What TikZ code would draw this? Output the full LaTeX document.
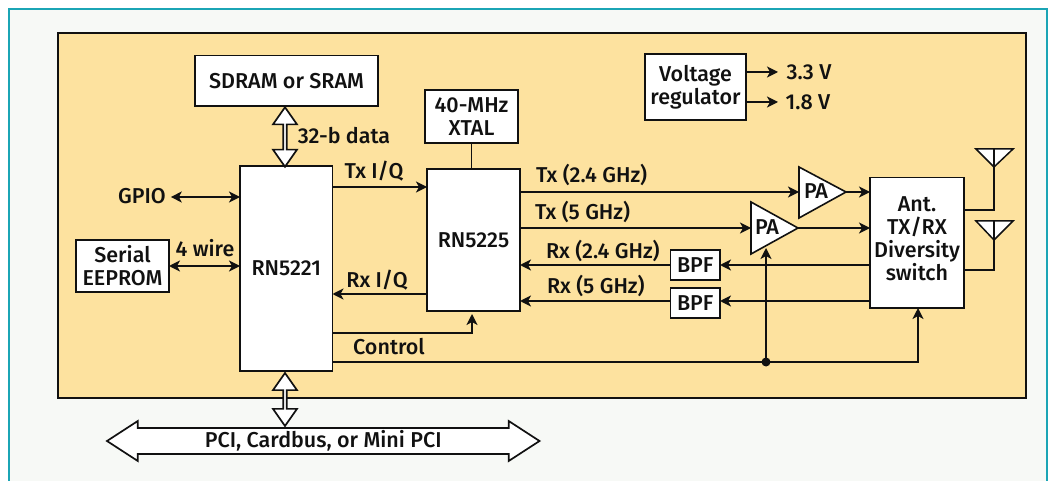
\documentclass[tikz,border=0pt]{standalone}
\usepackage{fontspec}
\setmainfont{Fira Sans}[UprightFont=* Medium]
\usetikzlibrary{arrows.meta,shapes.arrows,calc}
\definecolor{panel}{HTML}{FDE29F}
\definecolor{page}{HTML}{F7F9F6}
\definecolor{teal}{HTML}{1BA5B5}
\definecolor{ink}{HTML}{111111}
\tikzset{
  x=1pt,y=-1pt,
  every node/.style={font=\fontsize{21.5}{23}\selectfont,text=ink,inner sep=0pt,outer sep=0pt,align=center},
  blk/.style={draw=ink,line width=1.8pt,fill=white,anchor=north west},
  wire/.style={draw=ink,line width=1.6pt},
  arr/.style={wire,-{Stealth[length=11pt,width=11pt,inset=3pt]}},
  darr/.style={wire,{Stealth[length=11pt,width=11pt,inset=3pt]}-{Stealth[length=11pt,width=11pt,inset=3pt]}},
  bus/.style={double arrow,draw=ink,line width=1.7pt,fill=white,double arrow head indent=0pt},
  sbus/.style={bus,rotate=90,minimum width=24pt,double arrow head extend=5pt,double arrow tip angle=70,text height=0pt,text depth=0pt},
  amp/.style={draw=ink,line width=1.6pt,fill=white,line join=miter},
  ant/.style={draw=ink,line width=1.5pt,fill=white,line join=miter},
}
\begin{document}
\begin{tikzpicture}
\useasboundingbox (0,0) rectangle (1058,481);
\fill[white] (0,0) rectangle (1058,481);
\path[fill=page] (9,9) rectangle (1047,481);
\draw[teal,line width=2pt] (9,481) -- (9,9) -- (1047,9) -- (1047,481);
\draw[fill=panel,draw=ink,line width=1.5pt] (58,33) rectangle (1026,398);

% blocks
\node[blk,minimum width=183pt,minimum height=50.5pt] (sdram) at (195,55.5) {SDRAM or SRAM};
\node[blk,minimum width=93pt,minimum height=53pt] (xtal) at (425,90) {40-MHz\\XTAL};
\node[blk,minimum width=92.5pt,minimum height=205pt] (rn21) at (240,166) {RN5221};
\node[blk,minimum width=93pt,minimum height=142pt] (rn25) at (427,169) {RN5225};
\node[blk,minimum width=93pt,minimum height=52pt] (eeprom) at (76,240) {Serial\\EEPROM};
\node[blk,minimum width=101pt,minimum height=66pt] (vreg) at (645,54) {Voltage\\regulator};
\node[blk,minimum width=94pt,minimum height=130.5pt] (sw) at (870,177.5) {Ant.\\TX/RX\\Diversity\\switch\\[-14pt]};
\node[blk,minimum width=49.5pt,minimum height=30pt] (bpfa) at (670.5,250) {BPF};
\node[blk,minimum width=49.5pt,minimum height=30pt] (bpfb) at (670.5,288) {BPF};

% free-standing labels
\node (gpio) at (142,196) {GPIO};
\node (w4) at (205,248) {4 wire};
\node (d32) at (344,136) {32-b data};
\node (txiq) at (374,171) {Tx I/Q};
\node (rxiq) at (377,280) {Rx I/Q};
\node (ctl) at (389,347) {Control};
\node (v33) at (809,72) {3.3 V};
\node (v18) at (808,102) {1.8 V};
\node[anchor=west] (t24) at (536,175) {Tx (2.4 GHz)};
\node[anchor=west] (t5) at (535,212) {Tx (5 GHz)};
\node[anchor=west] (r24) at (546,251) {Rx (2.4 GHz)};
\node[anchor=west] (r5) at (547,286) {Rx (5 GHz)};

% power amplifiers
\draw[amp] (799,167) -- (846,192) -- (799,218) -- cycle;
\draw[amp] (751,202) -- (798,228) -- (751,254) -- cycle;
\coordinate (paain) at (799,192); \coordinate (paaout) at (846,192);
\coordinate (pabin) at (751,228); \coordinate (pabout) at (798,228);
\coordinate (pabbot) at (766,248);
\node (paa) at (816,191) {PA};
\node (pab) at (767,227) {PA};

% antennas
\coordinate (anta) at (994,149); \coordinate (antb) at (994,221);
\draw[ant] (976,149) -- (1013,149) -- (994,167) -- cycle;
\draw[ant] (976,221) -- (1013,221) -- (994,240) -- cycle;
\draw[wire] (anta) -- (994,210) -- (sw.east|-0,210);
\draw[wire] (antb) -- (994,270) -- (sw.east|-0,270);

% connectors
\draw[wire] (xtal.south-|471.5,0) -- (471.5,169);
\draw[arr] (rn21.east|-0,187) -- (rn25.west|-0,187);
\draw[arr] (rn25.west|-0,294) -- (rn21.east|-0,294);
\draw[arr] (rn21.east|-0,333) -- (472,333) -- (472,314);
\draw[darr] (gpio.east|-0,197) ++(5,0) -- (rn21.west|-0,197);
\draw[darr] (eeprom.east|-0,266) -- (rn21.west|-0,266);
\draw[arr] (vreg.east|-0,72) -- (778,72);
\draw[arr] (vreg.east|-0,102) -- (778,102);
\draw[arr] (rn25.east|-0,192) -- (paain);
\draw[arr] (paaout) -- (sw.west|-0,192);
\draw[arr] (rn25.east|-0,228) -- (pabin);
\draw[arr] (pabout) -- (sw.west|-0,228);
\draw[arr] (sw.west|-0,265) -- (bpfa.east|-0,265);
\draw[arr] (bpfa.west|-0,265) -- (rn25.east|-0,265);
\draw[arr] (sw.west|-0,301) -- (bpfb.east|-0,301);
\draw[arr] (bpfb.west|-0,301) -- (rn25.east|-0,301);
\coordinate (junc) at (766,362);
\draw[wire] (rn21.east|-0,362) -- (junc);
\draw[arr] (junc) -- (pabbot);
\draw[arr] (junc) -- (918,362) -- (sw.south-|918,0);
\fill[ink] (junc) circle (4.5pt);

% buses
\node[sbus,minimum height=59.5pt] (busa) at (285,137) {};
\node[sbus,minimum height=53pt] (busb) at (285,399.5) {};
\node[bus,minimum height=432.5pt,minimum width=40pt,double arrow head extend=6pt,double arrow tip angle=66] (pci) at (323.25,441) {PCI, Cardbus, or Mini PCI};
\end{tikzpicture}
\end{document}
